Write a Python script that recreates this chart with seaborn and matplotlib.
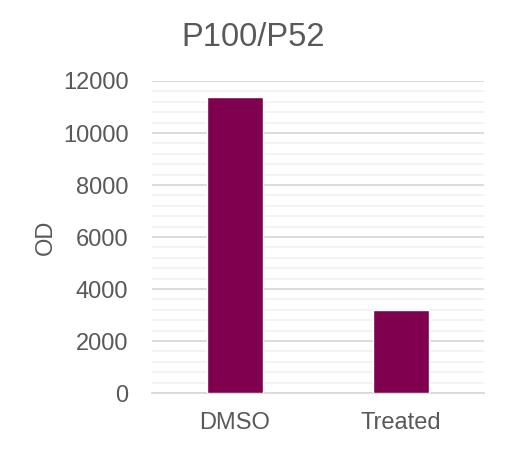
import pandas as pd
import matplotlib.pyplot as plt
import seaborn as sns
from matplotlib.ticker import MultipleLocator

# Data
groups = ["DMSO", "Treated"]
od_values = [11400, 3200]

df = pd.DataFrame({"group": groups, "OD": od_values})

sns.set_style("white")
plt.rcParams['font.family'] = ['Liberation Sans', 'DejaVu Sans']

fig = plt.figure(figsize=(5.07, 4.49), dpi=100)
ax = fig.add_axes([0.2998, 0.1247, 0.6548, 0.6949])

sns.barplot(data=df, x="group", y="OD", color="#800050", saturation=1,
            width=0.34, ax=ax, zorder=3)

ax.set_ylim(0, 12000)
ax.set_xlim(-0.5, 1.5)
ax.yaxis.set_major_locator(MultipleLocator(2000))
ax.yaxis.set_minor_locator(MultipleLocator(400))
ax.grid(axis='y', which='major', color='#d9d9d9', linewidth=1.3, zorder=0)
ax.grid(axis='y', which='minor', color='#f2f2f2', linewidth=1.3, zorder=0)
ax.set_axisbelow(True)

for side in ['top', 'right', 'left']:
    ax.spines[side].set_visible(False)
ax.spines['bottom'].set_color('#d9d9d9')
ax.spines['bottom'].set_linewidth(1.3)

ax.tick_params(axis='both', which='both', length=0, labelsize=17, colors='#595959')
ax.tick_params(axis='y', pad=17)
ax.tick_params(axis='x', pad=14)

ax.set_xlabel("")
ax.set_ylabel("OD", fontsize=17, color='#595959', labelpad=4)

fig.text(0.5, 0.897, "P100/P52", ha='center', va='baseline', fontsize=23.5, color='#595959')

plt.savefig("out.png", dpi=100)
plt.close()
